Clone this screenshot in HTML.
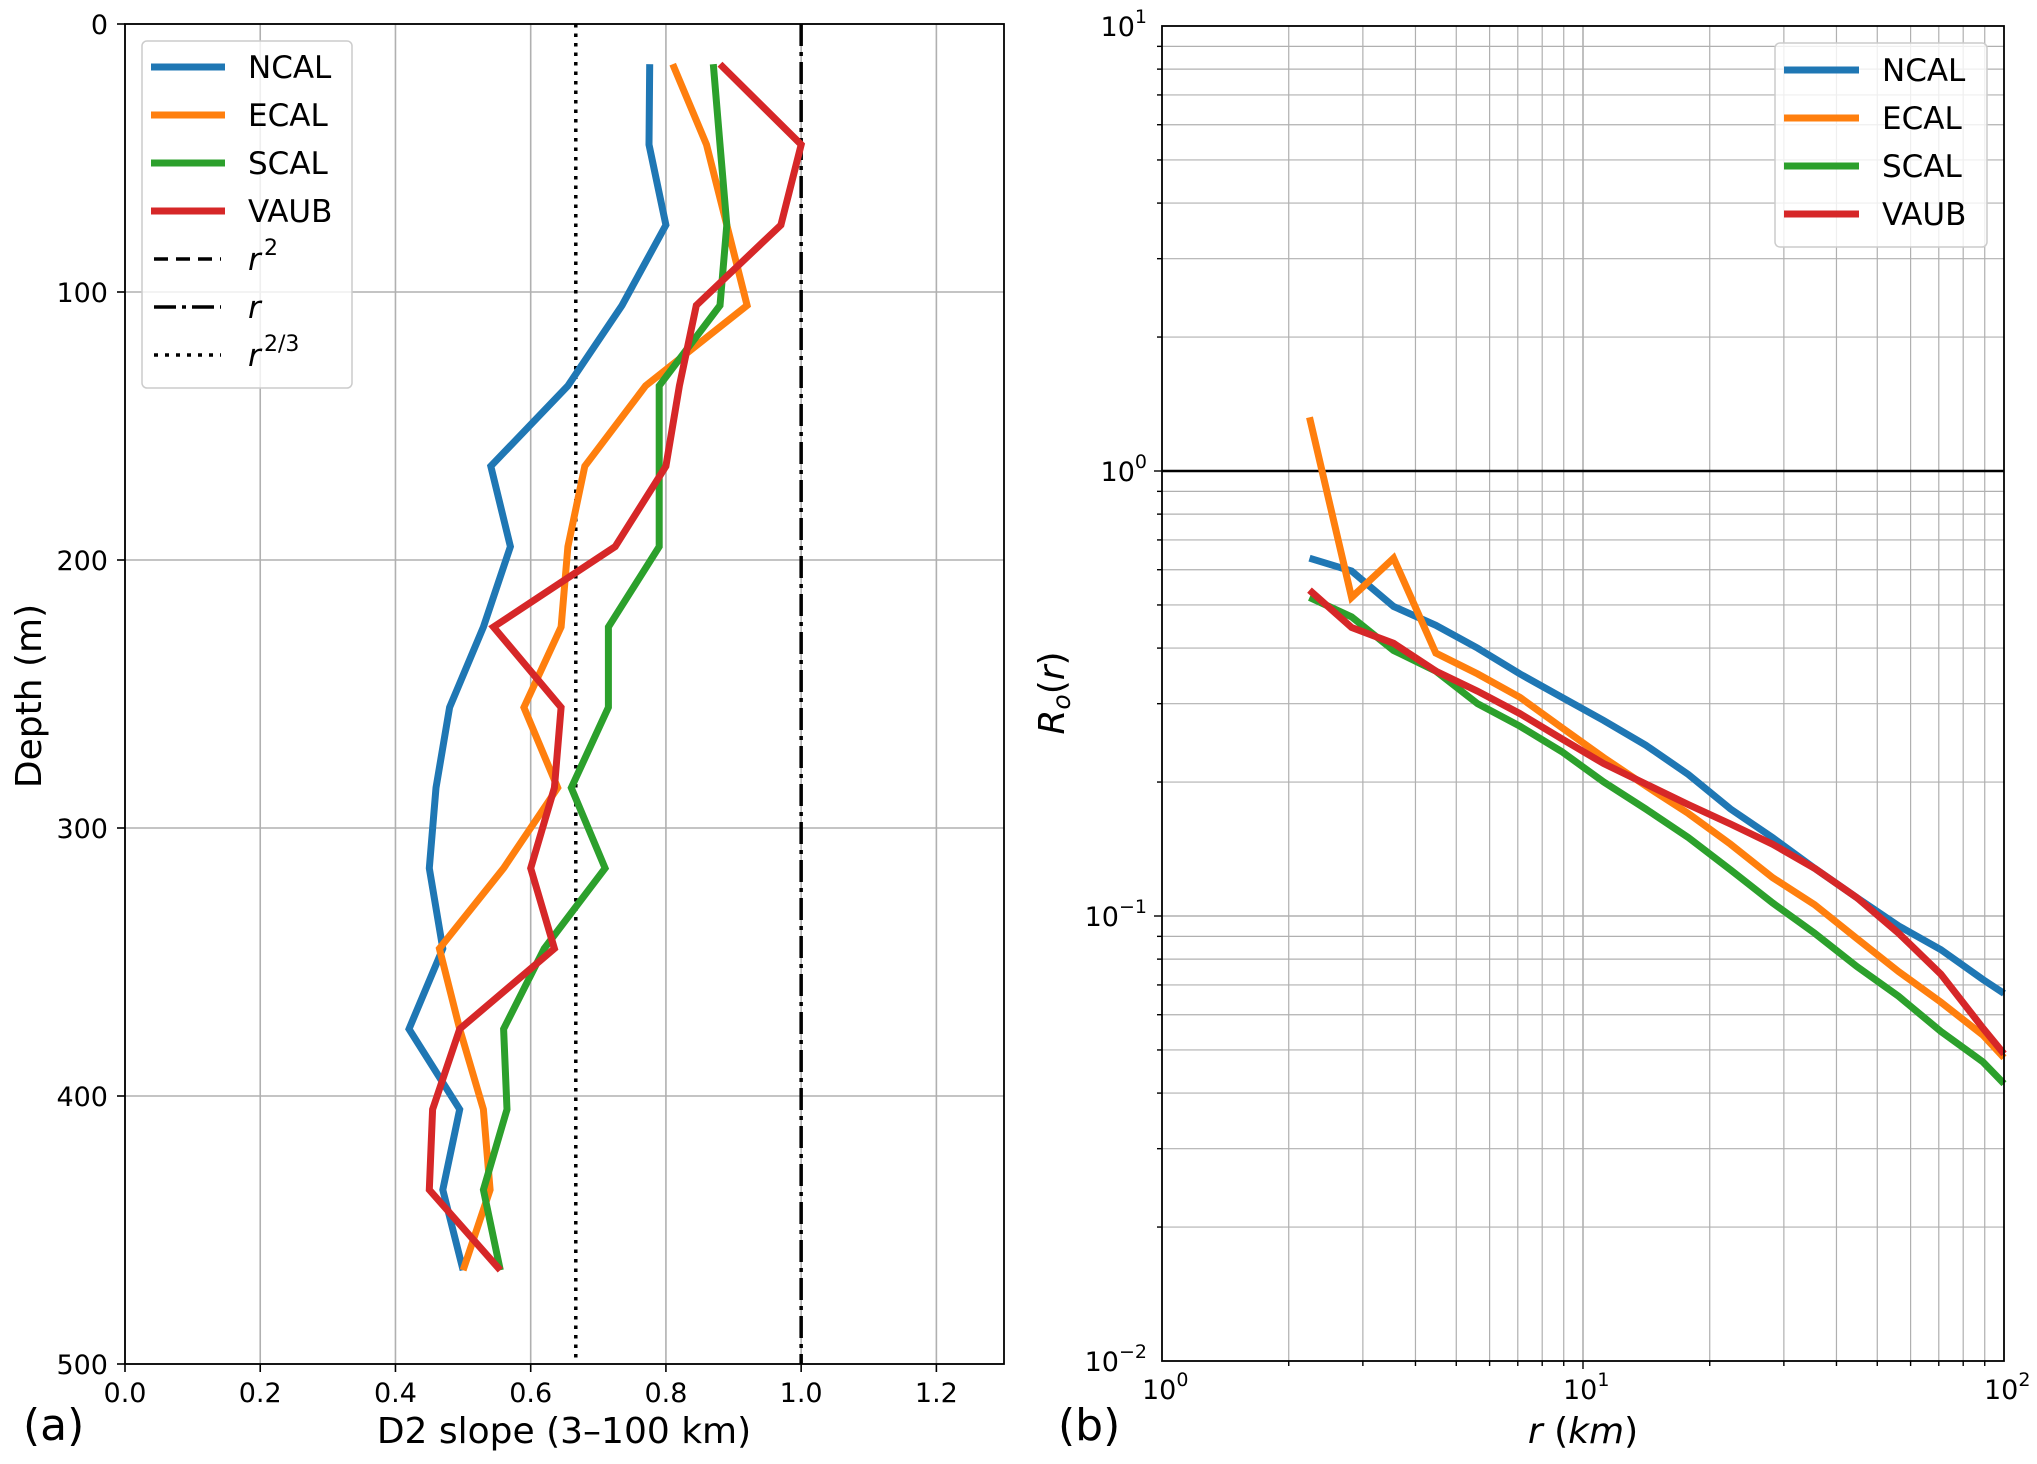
<!DOCTYPE html>
<html><head><meta charset="utf-8">
<style>
html,body{margin:0;padding:0;background:#fff;}
svg{display:block;}
text{font-family:"DejaVu Sans","Liberation Sans",sans-serif;fill:#000;}
</style></head>
<body>
<svg id="fig" width="2037" height="1464" viewBox="0 0 2037 1464" xmlns="http://www.w3.org/2000/svg">
<g id="pa"></g>
<g id="pb"></g>
</svg>
<script>
// ---------- Panel (a) data ----------
const depths = [15,45,75,105,135,165,195,225,255,285,315,345,375,405,435,465];
const slopeNCAL = [0.776,0.775,0.80,0.735,0.655,0.541,0.57,0.53,0.48,0.46,0.45,0.47,0.42,0.495,0.47,0.50];
const slopeECAL = [0.81,0.86,0.89,0.92,0.77,0.68,0.655,0.645,0.59,0.64,0.56,0.465,0.495,0.53,0.54,0.50];
const slopeSCAL = [0.87,0.88,0.89,0.88,0.79,0.79,0.79,0.715,0.715,0.66,0.71,0.62,0.56,0.565,0.53,0.555];
const slopeVAUB = [0.88,1.0,0.97,0.845,0.82,0.80,0.725,0.545,0.645,0.635,0.60,0.635,0.495,0.455,0.45,0.555];
const aXTicks = [0.0,0.2,0.4,0.6,0.8,1.0,1.2];
const aYTicks = [0,100,200,300,400,500];
const refSlopes = [0.6667,1.0];
// ---------- Panel (b) data ----------
const rKm = [2.24,2.82,3.55,4.47,5.62,7.08,8.91,11.2,14.1,17.8,22.4,28.2,35.5,44.7,56.2,70.8,89.1,100];
const roNCAL = [0.637,0.596,0.496,0.45,0.40,0.35,0.31,0.275,0.242,0.208,0.174,0.15,0.128,0.11,0.095,0.084,0.072,0.067];
const roECAL = [1.32,0.52,0.637,0.39,0.35,0.31,0.265,0.227,0.196,0.17,0.145,0.122,0.106,0.089,0.075,0.064,0.054,0.048];
const roSCAL = [0.52,0.47,0.395,0.355,0.30,0.267,0.234,0.20,0.174,0.15,0.127,0.107,0.0915,0.077,0.066,0.055,0.047,0.042];
const roVAUB = [0.54,0.445,0.41,0.355,0.32,0.285,0.25,0.22,0.198,0.178,0.161,0.145,0.128,0.11,0.0915,0.074,0.056,0.049];
const bXDecades = [0,1,2];
const bYDecades = [-2,-1,0,1];
const seriesNames = ["NCAL","ECAL","SCAL","VAUB"];
const colors = ["#1f77b4","#ff7f0e","#2ca02c","#d62728"];

const NS="http://www.w3.org/2000/svg";
function mk(parent,tag,attrs){const e=document.createElementNS(NS,tag);for(const k in attrs)e.setAttribute(k,attrs[k]);parent.appendChild(e);return e;}

// ===== Panel A =====
const pa=document.getElementById('pa');
const AX0=125,AX1=1004,AY0=24,AY1=1364;
const ax=v=>AX0+(v/1.3)*(AX1-AX0);
const ay=d=>AY0+(d/500)*(AY1-AY0);
aXTicks.forEach(v=>{
  const l=mk(pa,'line',{x1:ax(v),x2:ax(v),y1:AY0,y2:AY1,stroke:'#b0b0b0','stroke-width':1.6});
  
  
  const t=mk(pa,'line',{x1:ax(v),x2:ax(v),y1:AY1,y2:AY1+8,stroke:'#000','stroke-width':1.6});
  
  
  const tx=mk(pa,'text',{x:ax(v),y:1402,'font-size':27,'text-anchor':'middle'});
  tx.textContent=v.toFixed(1);
  
  
});
aYTicks.forEach(v=>{
  const l=mk(pa,'line',{x1:AX0,x2:AX1,y1:ay(v),y2:ay(v),stroke:'#b0b0b0','stroke-width':1.6});
  
  
  const t=mk(pa,'line',{x1:AX0-8,x2:AX0,y1:ay(v),y2:ay(v),stroke:'#000','stroke-width':1.6});
  
  
  const tx=mk(pa,'text',{x:108,y:ay(v)+10,'font-size':27,'text-anchor':'end'});
  tx.textContent=String(v);
  
  
});
const r23=mk(pa,'line',{x1:ax(refSlopes[0]),x2:ax(refSlopes[0]),y1:AY0,y2:AY1,stroke:'#000','stroke-width':3.5,'stroke-dasharray':'3.5 6'});


const r1=mk(pa,'line',{x1:ax(refSlopes[1]),x2:ax(refSlopes[1]),y1:AY0,y2:AY1,stroke:'#000','stroke-width':3.5,'stroke-dasharray':'22 6 4 6'});


[slopeNCAL,slopeECAL,slopeSCAL,slopeVAUB].forEach((s,i)=>{
  const pts=s.map((v,j)=>ax(v).toFixed(1)+','+ay(depths[j]).toFixed(1)).join(' ');
  const p=mk(pa,'polyline',{points:pts,fill:'none',stroke:colors[i],'stroke-width':7,'stroke-linejoin':'miter','stroke-miterlimit':3});
  
  
});
const fa=mk(pa,'rect',{x:AX0,y:AY0,width:AX1-AX0,height:AY1-AY0,fill:'none',stroke:'#000','stroke-width':1.8});


const la=mk(pa,'g',{});


mk(la,'rect',{x:142,y:41,width:210,height:347,rx:5,fill:'#fff','fill-opacity':0.8,stroke:'#ccc','stroke-width':1.5});
const legY=[67,115,163,211,259,307,355];
seriesNames.forEach((n,i)=>{
  const g=mk(la,'g',{});
  
  
  mk(g,'line',{x1:151,x2:225,y1:legY[i],y2:legY[i],stroke:colors[i],'stroke-width':7});
  const t=mk(g,'text',{x:248,y:legY[i]+11,'font-size':31});t.textContent=n;
});
const dashes=['14 8','22 6 4 6','4 7'];
const refLabels=[['r','2'],['r',''],['r','2/3']];
for(let k=0;k<3;k++){
  const y=legY[4+k];
  const g=mk(la,'g',{});
  
  
  mk(g,'line',{x1:154,x2:221,y1:y,y2:y,stroke:'#000','stroke-width':3.5,'stroke-dasharray':dashes[k]});
  const t=mk(g,'text',{x:248,y:y+11,'font-size':31,'font-style':'italic'});t.textContent=refLabels[k][0];
  if(refLabels[k][1]){const s=mk(g,'text',{x:264,y:y-4,'font-size':22});s.textContent=refLabels[k][1];}
}
const xla=mk(pa,'text',{x:564,y:1443,'font-size':36,'text-anchor':'middle'});xla.textContent='D2 slope (3–100 km)';


const yla=mk(pa,'text',{x:0,y:0,'font-size':36,'text-anchor':'middle',transform:'translate(41,696) rotate(-90)'});yla.textContent='Depth (m)';


const pla=mk(pa,'text',{x:23,y:1440,'font-size':44});pla.textContent='(a)';



// ===== Panel B =====
const pb=document.getElementById('pb');
const BX0=1162,BX1=2004,BY0=26,BY1=1361;
const bx=v=>BX0+(Math.log10(v)-0)/2*(BX1-BX0);
const by=v=>BY1-(Math.log10(v)+2)/3*(BY1-BY0);
for(let d=0;d<2;d++){for(let m=1;m<=9;m++){const v=m*Math.pow(10,d);if(v<=1)continue;
  const l=mk(pb,'line',{x1:bx(v),x2:bx(v),y1:BY0,y2:BY1,stroke:'#b0b0b0','stroke-width':m===1?1.6:1.2});
  
  
  const t=mk(pb,'line',{x1:bx(v),x2:bx(v),y1:BY1,y2:BY1+(m===1?8:5),stroke:'#000','stroke-width':1.4});
  
  
}}
for(let d=-2;d<1;d++){for(let m=1;m<=9;m++){const v=m*Math.pow(10,d);if(v<=0.01)continue;
  const l=mk(pb,'line',{x1:BX0,x2:BX1,y1:by(v),y2:by(v),stroke:'#b0b0b0','stroke-width':m===1?1.6:1.2});
  
  
  const t=mk(pb,'line',{x1:BX0-(m===1?8:5),x2:BX0,y1:by(v),y2:by(v),stroke:'#000','stroke-width':1.4});
  
  
}}
bXDecades.forEach(d=>{
  const g=mk(pb,'text',{x:bx(Math.pow(10,d))-20,y:1399,'font-size':27});
  
  
  g.innerHTML='10<tspan dy="-13" font-size="19">'+d+'</tspan>';
});
bYDecades.forEach(d=>{
  const lab=d<0?'\u2212'+(-d):String(d);
  const g=mk(pb,'text',{x:1147,y:by(Math.pow(10,d))+10,'font-size':27,'text-anchor':'end'});
  
  
  g.innerHTML='10<tspan dy="-13" font-size="19">'+lab+'</tspan>';
});
const one=mk(pb,'line',{x1:BX0,x2:BX1,y1:by(1),y2:by(1),stroke:'#000','stroke-width':2.6});


[roNCAL,roECAL,roSCAL,roVAUB].forEach((s,i)=>{
  const pts=s.map((v,j)=>bx(rKm[j]).toFixed(1)+','+by(v).toFixed(1)).join(' ');
  const p=mk(pb,'polyline',{points:pts,fill:'none',stroke:colors[i],'stroke-width':7,'stroke-linejoin':'miter','stroke-miterlimit':3});
  
  
});
const fb=mk(pb,'rect',{x:BX0,y:BY0,width:BX1-BX0,height:BY1-BY0,fill:'none',stroke:'#000','stroke-width':1.8});


const lb=mk(pb,'g',{});


mk(lb,'rect',{x:1775,y:43,width:212,height:204,rx:5,fill:'#fff','fill-opacity':0.8,stroke:'#ccc','stroke-width':1.5});
const legYB=[70,118,166,214];
seriesNames.forEach((n,i)=>{
  const g=mk(lb,'g',{});
  
  
  mk(g,'line',{x1:1784,x2:1859,y1:legYB[i],y2:legYB[i],stroke:colors[i],'stroke-width':7});
  const t=mk(g,'text',{x:1882,y:legYB[i]+11,'font-size':31});t.textContent=n;
});
const xlb=mk(pb,'text',{x:1583,y:1443,'font-size':36,'text-anchor':'middle'});
xlb.innerHTML='<tspan font-style="italic">r</tspan> (<tspan font-style="italic">km</tspan>)';


const ylb=mk(pb,'text',{x:0,y:0,'font-size':36,'text-anchor':'middle',transform:'translate(1064,693) rotate(-90)'});
ylb.innerHTML='<tspan font-style="italic">R</tspan><tspan font-style="italic" font-size="25" dy="6">o</tspan><tspan dy="-6">(</tspan><tspan font-style="italic">r</tspan>)';


const plb=mk(pb,'text',{x:1058,y:1440,'font-size':44});plb.textContent='(b)';


</script>
</body></html>
